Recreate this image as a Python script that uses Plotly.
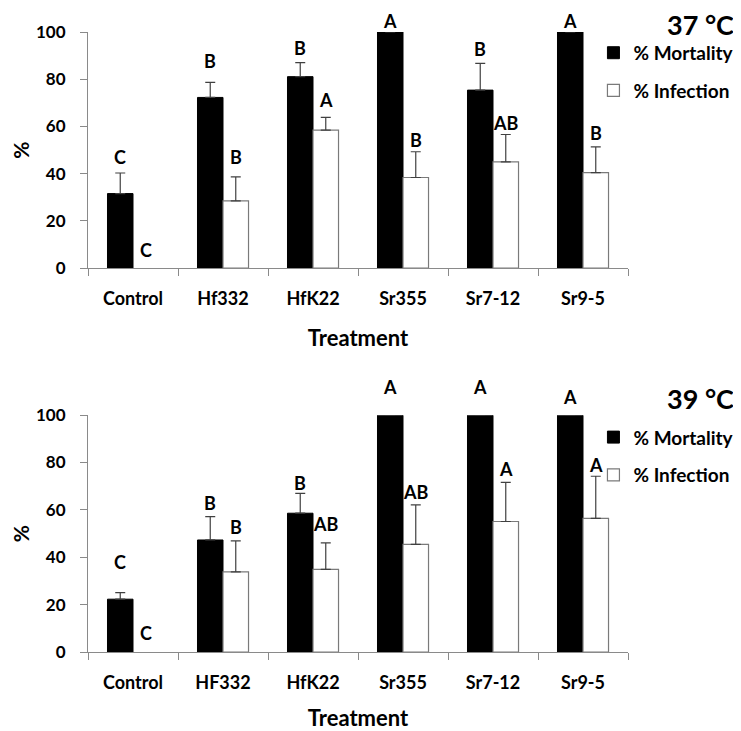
import plotly.graph_objects as go

# ---------------- data ----------------
categories_37 = ["Control", "Hf332", "HfK22", "Sr355", "Sr7-12", "Sr9-5"]
categories_39 = ["Control", "HF332", "HfK22", "Sr355", "Sr7-12", "Sr9-5"]

mortality_37 = [31.6, 72.3, 81.1, 100, 75.4, 100]
mortality_err_37 = [8.7, 6.4, 5.9, 0, 11.3, 0]
infection_37 = [0, 28.5, 58.5, 38.4, 45.0, 40.5]
infection_err_37 = [0, 10.2, 5.4, 10.9, 11.6, 10.9]
mortality_letters_37 = ["C", "B", "B", "A", "B", "A"]
infection_letters_37 = ["C", "B", "A", "B", "AB", "B"]
mortality_letter_y_37 = [47.0, 87.7, 93.2, 104.8, 92.7, 104.8]
infection_letter_y_37 = [7.6, 47.0, 71.2, 54.2, 61.3, 57.1]

mortality_39 = [22.3, 47.3, 58.6, 100, 100, 100]
mortality_err_39 = [2.8, 9.9, 8.4, 0, 0, 0]
infection_39 = [0, 33.8, 34.9, 45.4, 55.1, 56.4]
infection_err_39 = [0, 13.1, 11.2, 16.7, 16.5, 17.8]
mortality_letters_39 = ["C", "B", "B", "A", "A", "A"]
infection_letters_39 = ["C", "B", "AB", "AB", "A", "A"]
mortality_letter_y_39 = [38.0, 63.0, 71.3, 112, 112, 107.7]
infection_letter_y_39 = [7.9, 52.7, 54.0, 67.6, 77.2, 78.9]

y_ticks = [0, 20, 40, 60, 80, 100]
y_max = 100
series_names = ["% Mortality", "% Infection"]
panel_titles = ["37 °C", "39 °C"]

# ---------------- figure ----------------
FONT = "Lato"
AXIS_COLOR = "#8a8a8a"
ERR_COLOR = "#404040"

fig = go.Figure()

panels = [
    (categories_37, mortality_37, mortality_err_37, infection_37, infection_err_37,
     mortality_letters_37, infection_letters_37, mortality_letter_y_37, infection_letter_y_37,
     "x", "y", "legend"),
    (categories_39, mortality_39, mortality_err_39, infection_39, infection_err_39,
     mortality_letters_39, infection_letters_39, mortality_letter_y_39, infection_letter_y_39,
     "x2", "y2", "legend2"),
]

annotations = []
letter_font = dict(size=18, family=FONT, color="black", weight="bold")
for (cats, mort, mort_err, inf, inf_err, mlet, ilet, mly, ily, xa, ya, leg) in panels:
    fig.add_trace(go.Bar(
        x=cats, y=mort, name=series_names[0], xaxis=xa, yaxis=ya,
        marker=dict(color="black", line=dict(color="black", width=1)),
        error_y=dict(type="data", symmetric=False, array=mort_err,
                     arrayminus=[0] * len(mort), color=ERR_COLOR, thickness=1.2, width=5),
        legend=leg, legendgroup="m" + leg, cliponaxis=False,
    ))
    # zero-height bars are not drawn (no outline line on the axis)
    inf_plot = [v if v > 0 else None for v in inf]
    inf_err_plot = [e if e > 0 else None for e in inf_err]
    fig.add_trace(go.Bar(
        x=cats, y=inf_plot, name=series_names[1], xaxis=xa, yaxis=ya,
        marker=dict(color="white", line=dict(color="#7a7a7a", width=1.2)),
        error_y=dict(type="data", symmetric=False, array=inf_err_plot,
                     arrayminus=[0] * len(inf), color=ERR_COLOR, thickness=1.2, width=5),
        legend=leg, legendgroup="i" + leg, cliponaxis=False,
    ))
    for c, t, yv in zip(cats, mlet, mly):
        annotations.append(dict(x=c, y=yv / y_max, xref=xa, yref=ya + " domain", text=t,
                                showarrow=False, xshift=-12.75, yanchor="middle", xanchor="center",
                                font=letter_font))
    for c, t, yv in zip(cats, ilet, ily):
        annotations.append(dict(x=c, y=yv / y_max, xref=xa, yref=ya + " domain", text=t,
                                showarrow=False, xshift=12.75, yanchor="middle", xanchor="center",
                                font=letter_font))

title_font = dict(size=27, family=FONT, color="black", weight="bold")
annotations.append(dict(x=1.2, y=1.0, xref="paper", yref="paper", xanchor="right", yanchor="top",
                        text=panel_titles[0], showarrow=False, yshift=26, font=title_font))
annotations.append(dict(x=1.2, y=0.382, xref="paper", yref="paper", xanchor="right", yanchor="middle",
                        text=panel_titles[1], showarrow=False, yshift=17, font=title_font))

axis_common = dict(
    showline=True, linecolor=AXIS_COLOR, linewidth=1.2, showgrid=False, zeroline=False,
    ticks="outside", tickcolor=AXIS_COLOR, ticklen=7, tickwidth=1.2,
)

xaxis_common = dict(axis_common, type="category", tickson="boundaries",
                    tickfont=dict(size=18, family=FONT, color="black", weight="bold"),
                    ticklabelstandoff=14)
x_title_font = dict(size=22, family=FONT, color="black", weight="bold")
yaxis_common = dict(axis_common, range=[0, y_max], tickvals=y_ticks, ticklabelstandoff=11,
                    tickfont=dict(size=17, family=FONT, color="black", weight="bold"),
                    title=dict(text="%", font=dict(size=21, family=FONT, color="black", weight="bold"),
                               standoff=36))

legend_common = dict(
    font=dict(size=19, family=FONT, color="black", weight="bold"),
    xanchor="left", yanchor="top", bgcolor="rgba(0,0,0,0)",
    traceorder="grouped", tracegroupgap=10, itemwidth=30,
)

fig.update_layout(
    width=733, height=723,
    margin=dict(l=80, r=113, t=24, b=79, autoexpand=False),
    paper_bgcolor="white", plot_bgcolor="white",
    barmode="group", bargap=0.433, bargroupgap=0,
    showlegend=True,
    xaxis=dict(xaxis_common, domain=[0, 1], anchor="y",
               title=dict(text="Treatment", font=x_title_font, standoff=22)),
    yaxis=dict(yaxis_common, domain=[0.619, 1], anchor="x"),
    xaxis2=dict(xaxis_common, domain=[0, 1], anchor="y2",
                title=dict(text="Treatment", font=x_title_font, standoff=28)),
    yaxis2=dict(yaxis_common, domain=[0, 0.382], anchor="x2"),
    legend=dict(legend_common, x=0.936, y=0.997),
    legend2=dict(legend_common, x=0.936, y=0.377),
    annotations=annotations,
    font=dict(family=FONT, color="black"),
)

fig.write_html("out.html")
